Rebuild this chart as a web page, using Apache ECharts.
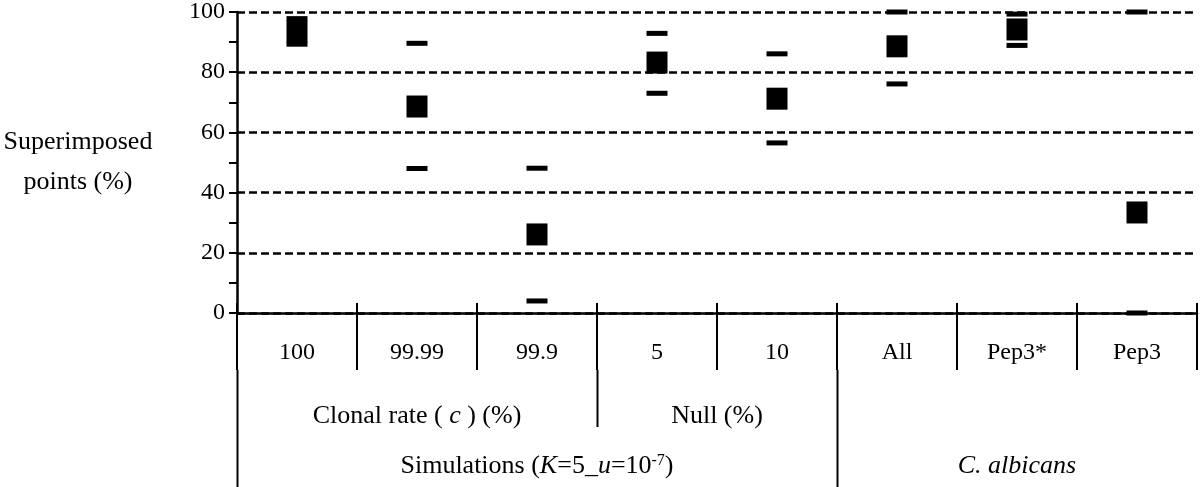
<!DOCTYPE html>
<html>
<head>
<meta charset="utf-8">
<script src="https://cdn.jsdelivr.net/npm/echarts@6/dist/echarts.min.js"></script>
<style>
  html, body { margin: 0; padding: 0; background: #fff; }
  #chart { width: 1200px; height: 487px; }
</style>
</head>
<body>
<div id="chart"></div>
<script>
// categories along the bottom (first table row)
const categories = ['100', '99.99', '99.9', '5', '10', 'All', 'Pep3*', 'Pep3'];

// superimposed points (%)
const meanValues = [93.5, 68.6, 26.1, 83.2, 71.2, 88.6, 94.2, 33.4];
const maxValues = [97.8, 89.6, 48.1, 92.9, 86.1, 100, 99.3, 100];
const minValues = [89.3, 48.0, 4.0, 73.0, 56.5, 76.1, 88.9, 0];

// y ticks
const yTicks = [0, 20, 40, 60, 80, 100];

// grouped header rows under the categories: [label, first index, last index]
const groupRow2 = [
  ['{n|Clonal rate ( }{i|c}{n| ) (%)}', 0, 2],
  ['{n|Null (%)}', 3, 4],
  ['', 5, 7]
];
const groupRow3 = [
  ['{n|Simulations (}{i|K}{n|=5_}{i|u}{n|=10}{s|-7}{n|)}', 0, 4],
  ['{i|C. albicans}', 5, 7]
];

const serif = '"Liberation Serif", "DejaVu Serif", serif';
const ink = '#000';
const rowH = 57;

const chart = echarts.init(document.getElementById('chart'));

const option = {
  animation: false,
  grid: { left: 237, right: 3, top: 12, bottom: 174 },
  xAxis: [
    {
      type: 'category',
      data: categories,
      axisLine: { lineStyle: { color: ink, width: 2.5 } },
      axisTick: { show: true, interval: 0, length: rowH, lineStyle: { color: ink, width: 2 } },
      axisLabel: { interval: 0, margin: 28, color: ink, fontFamily: serif, fontSize: 24 },
      splitLine: { show: false }
    },
    {
      // short ticks poking up into the plot at each category boundary
      type: 'category',
      data: categories,
      position: 'bottom',
      axisLine: { show: false },
      axisTick: { show: true, inside: true, interval: 0, length: 10, lineStyle: { color: ink, width: 2 } },
      axisLabel: { show: false },
      splitLine: { show: false }
    }
  ],
  yAxis: {
    type: 'value',
    min: yTicks[0],
    max: yTicks[yTicks.length - 1],
    interval: 20,
    name: 'Superimposed\npoints (%)',
    nameLocation: 'middle',
    nameRotate: 0,
    nameGap: 159,
    nameTextStyle: { color: ink, fontFamily: serif, fontSize: 26, lineHeight: 40, align: 'center', padding: [6, 0, 0, 0] },
    axisLine: { show: true, lineStyle: { color: ink, width: 2.5 } },
    axisTick: { show: true, length: 8, lineStyle: { color: ink, width: 2 } },
    minorTick: { show: true, splitNumber: 2, length: 8, lineStyle: { color: ink, width: 2 } },
    axisLabel: { color: ink, fontFamily: serif, fontSize: 24, margin: 12 },
    splitLine: { show: true, lineStyle: { color: ink, width: 2.5, type: [8, 4] } }
  },
  series: [
    {
      name: 'max',
      type: 'scatter',
      symbol: 'rect',
      symbolSize: [21, 5],
      itemStyle: { color: ink, opacity: 1 },
      data: maxValues
    },
    {
      name: 'min',
      type: 'scatter',
      symbol: 'rect',
      symbolSize: [21, 5],
      itemStyle: { color: ink, opacity: 1 },
      data: minValues
    },
    {
      name: 'mean',
      type: 'scatter',
      symbol: 'rect',
      symbolSize: [21, 22],
      itemStyle: { color: ink, opacity: 1 },
      data: meanValues
    }
  ]
};

chart.setOption(option);

// table lines and group labels below the axis, placed from the category scale
const centerX = i => chart.convertToPixel({ xAxisIndex: 0 }, categories[i]);
const band = centerX(1) - centerX(0);
const leftEdge = i => centerX(i) - band / 2;
const axisY = chart.convertToPixel({ yAxisIndex: 0 }, 0);
const row1Bottom = axisY + rowH;
const row2Bottom = axisY + rowH * 2;
const bottomY = chart.getHeight();

const richStyles = {
  n: { fontFamily: serif, fontSize: 26, fill: ink, lineHeight: 30 },
  i: { fontFamily: serif, fontSize: 26, fontStyle: 'italic', fill: ink, lineHeight: 30 },
  s: { fontFamily: serif, fontSize: 16, fill: ink, lineHeight: 30, verticalAlign: 'top', padding: [2, 0, 0, 0] }
};

const graphics = [];
function addRow(groups, top, bottom, labelY) {
  groups.forEach(([label, from, to]) => {
    const x = Math.round(leftEdge(from)) + 0.5;
    graphics.push({
      type: 'line',
      shape: { x1: x, y1: top, x2: x, y2: bottom },
      style: { stroke: ink, lineWidth: 2 }
    });
    if (label) {
      graphics.push({
        type: 'text',
        x: (centerX(from) + centerX(to)) / 2,
        y: labelY,
        style: { text: label, rich: richStyles, align: 'center', verticalAlign: 'middle' }
      });
    }
  });
}
addRow(groupRow2, row1Bottom, row2Bottom, axisY + 103);
addRow(groupRow3, row2Bottom, bottomY, axisY + 153);

chart.setOption({ graphic: graphics });
</script>
</body>
</html>
